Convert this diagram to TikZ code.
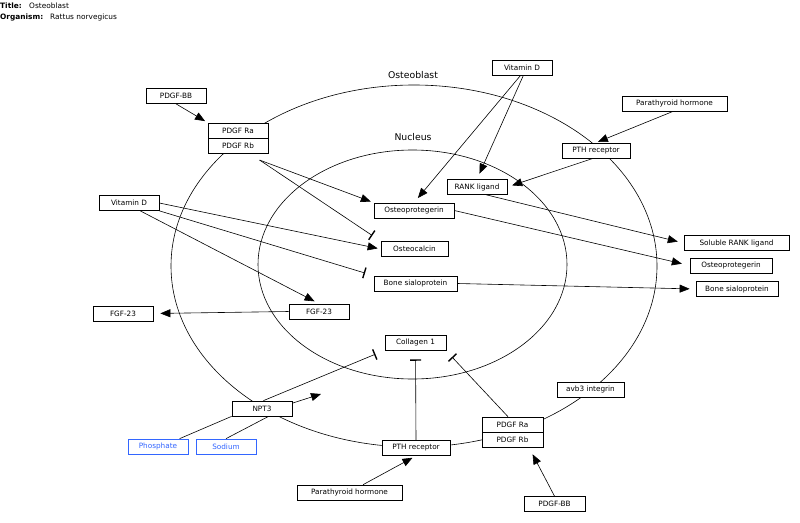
\documentclass[tikz,border=0pt]{standalone}
\usepackage{fontspec}
\setmainfont{DejaVu Sans}
\usetikzlibrary{arrows.meta,positioning}
\definecolor{metblue}{RGB}{51,102,255}
\begin{document}
\begin{tikzpicture}[x=1pt,y=-1pt,
    box/.style={draw,fill=white,line width=0.7pt,minimum height=15pt,inner sep=0pt,font=\fontsize{7.3}{8}\selectfont},
    metbox/.style={box,draw=metblue,text=metblue},
    stim/.style={-{Triangle[length=10pt,width=8pt]},line width=0.6pt},
    inhib/.style={-{Bar[width=11pt,line width=1.4pt]},line width=0.6pt},
    plain/.style={line width=0.6pt},
    lbl/.style={font=\fontsize{9.3}{10}\selectfont}]
    \useasboundingbox (0,0) rectangle (800,522);
    % header
    \node[anchor=west,inner sep=0pt,font=\fontsize{7.4}{8}\selectfont\bfseries] at (0,6) {Title:};
    \node[anchor=west,inner sep=0pt,font=\fontsize{7.4}{8}\selectfont] at (29,6) {Osteoblast};
    \node[anchor=west,inner sep=0pt,font=\fontsize{7.4}{8}\selectfont\bfseries] at (0,17) {Organism:};
    \node[anchor=west,inner sep=0pt,font=\fontsize{7.4}{8}\selectfont] at (50,17) {Rattus norvegicus};
    % compartments
    \draw[line width=0.6pt] (414,266) ellipse [x radius=243, y radius=181];
    \draw[line width=0.6pt] (412.5,264.5) ellipse [x radius=154.5, y radius=114.5];
    \node[lbl] at (413,75) {Osteoblast};
    \node[lbl] at (413,137) {Nucleus};
    % upper nodes
    \node[box,minimum width=60pt] (pdgfbbTop) at (176,96) {PDGF-BB};
    \node[box,minimum width=60pt] (pdgfRaTop) at (238,130.5) {PDGF Ra};
    \node[box,minimum width=60pt,below=0pt of pdgfRaTop] (pdgfRbTop) {PDGF Rb};
    \node[box,minimum width=60pt] (vitDLeft) at (129,203) {Vitamin D};
    \node[box,minimum width=60pt] (vitDTop) at (522,67.5) {Vitamin D};
    \node[box,minimum width=105pt] (pthTop) at (674.5,103.5) {Parathyroid hormone};
    \node[box,minimum width=68pt] (pthRecTop) at (596,150.5) {PTH receptor};
    \node[box,minimum width=60pt] (rankl) at (477,187) {RANK ligand};
    % nucleus nodes
    \node[box,minimum width=80pt] (opgIn) at (414,210.5) {Osteoprotegerin};
    \node[box,minimum width=67pt] (ocn) at (414.5,249) {Osteocalcin};
    \node[box,minimum width=83pt] (bspIn) at (415.5,283.5) {Bone sialoprotein};
    \node[box,minimum width=60pt] (fgfIn) at (319,311.5) {FGF-23};
    \node[box,minimum width=61pt] (col1) at (415.5,342.5) {Collagen 1};
    % outside nodes
    \node[box,minimum width=60pt] (fgfOut) at (123,313.5) {FGF-23};
    \node[box,minimum width=105pt] (srankl) at (736.5,243) {Soluble RANK ligand};
    \node[box,minimum width=82pt] (opgOut) at (731,265.5) {Osteoprotegerin};
    \node[box,minimum width=82pt] (bspOut) at (737,289) {Bone sialoprotein};
    % lower nodes
    \node[box,minimum width=60pt] (npt3) at (262,408.5) {NPT3};
    \node[metbox,minimum width=60pt] (phos) at (158,446.5) {Phosphate};
    \node[metbox,minimum width=60pt] (sod) at (226,446.5) {Sodium};
    \node[box,minimum width=68pt] (pthRecBot) at (416,448) {PTH receptor};
    \node[box,minimum width=105pt] (pthBot) at (349.5,492.5) {Parathyroid hormone};
    \node[box,minimum width=67pt] (avb3) at (590.5,389.5) {avb3 integrin};
    \node[box,minimum width=61pt] (pdgfRaBot) at (512.5,424.5) {PDGF Ra};
    \node[box,minimum width=61pt,below=0pt of pdgfRaBot] (pdgfRbBot) {PDGF Rb};
    \node[box,minimum width=61pt] (pdgfbbBot) at (554.5,504) {PDGF-BB};
    % free ends
    \coordinate (nptOut) at (321,394);
    \coordinate (pdgfEnd) at (452,357);
    % interactions
    \draw[stim,shorten >=3pt] (pdgfbbTop.south) -- (pdgfRaTop.north west);
    \draw[stim,shorten >=3pt] (pdgfRbTop.-20) ++(0,6) -- (opgIn.north west);
    \draw[inhib,shorten >=10pt] (pdgfRbTop.-20) ++(0,6) -- (ocn.north west);
    \draw[stim,shorten >=3pt] (vitDLeft.east) -- (ocn.west);
    \draw[inhib,shorten >=9pt] (vitDLeft.south east) -- (bspIn.north west);
    \draw[stim,shorten >=5pt] (vitDLeft.-35) -- (fgfIn.north);
    \draw[stim,shorten >=7pt] (fgfIn.west) -- (fgfOut.east);
    \draw[stim,shorten >=6pt] (vitDTop.-100) -- (opgIn.north);
    \draw[stim,shorten >=6pt] (vitDTop.-80) -- (rankl.north);
    \draw[stim,shorten >=2pt] (pthTop.-100) -- (pthRecTop.north);
    \draw[stim,shorten >=5pt] (pthRecTop.-110) -- (rankl.east);
    \draw[stim,shorten >=6pt] (rankl.-40) -- (srankl.west);
    \draw[stim,shorten >=8pt] (opgIn.east) -- (opgOut.west);
    \draw[stim,shorten >=6pt] (bspIn.east) -- (bspOut.west);
    \draw[inhib,shorten >=10pt] (npt3.80) -- (col1.south west);
    \draw[stim] (npt3.10) -- (nptOut);
    \draw[plain] (phos.20) -- (npt3.south west);
    \draw[plain] (sod.north) -- (npt3.-50);
    \draw[stim,shorten >=4pt] (pthBot.30) -- (pthRecBot.south);
    \draw[inhib,shorten >=9pt] (pthRecBot.north) -- (col1.south);
    \draw[inhib] (pdgfRaBot.120) -- (pdgfEnd);
    \draw[stim,shorten >=7pt] (pdgfbbBot.north) -- (pdgfRbBot.-25);
\end{tikzpicture}
\end{document}
